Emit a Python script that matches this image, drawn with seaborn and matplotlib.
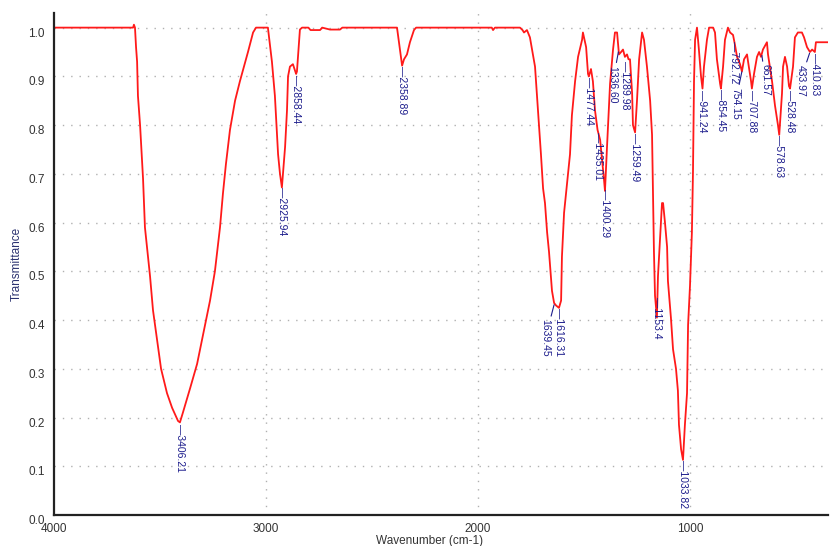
import numpy as np
import pandas as pd
import matplotlib
matplotlib.use("Agg")
import matplotlib.pyplot as plt
from matplotlib.ticker import MultipleLocator, FixedLocator, FuncFormatter
import seaborn as sns

# ---- spectrum (wavenumber cm-1, transmittance) ----
wavenumber = [4000, 3627, 3623, 3618, 3613, 3608, 3604, 3594, 3580, 3571, 3547, 3533,
              3514, 3495, 3467, 3443, 3415, 3406, 3392, 3358, 3325, 3297, 3264, 3241,
              3217, 3203, 3189, 3170, 3146, 3123, 3085, 3061, 3047, 2991, 2972, 2958, 2943, 2934,
              2925, 2910, 2901, 2896, 2887, 2873, 2858, 2854, 2840, 2830, 2800, 2790,
              2745, 2735, 2698, 2651, 2640, 2604, 2382, 2368, 2358, 2349, 2335, 2321,
              2302, 2292, 1935, 1929, 1920, 1802, 1790, 1783, 1775, 1769, 1755, 1731,
              1717, 1703, 1693, 1684, 1674, 1665, 1656, 1651, 1641, 1632, 1618, 1608,
              1604, 1594, 1580, 1566, 1557, 1542, 1528, 1509, 1505, 1490, 1481, 1477,
              1467, 1458, 1448, 1436, 1424, 1415, 1406, 1401, 1392, 1377, 1363, 1354,
              1344, 1340, 1335, 1325, 1316, 1307, 1297, 1290, 1283, 1273, 1269, 1259,
              1250, 1240, 1226, 1217, 1203, 1188, 1179, 1174, 1170, 1165, 1156, 1151,
              1141, 1132, 1127, 1118, 1108, 1104, 1090, 1080, 1066, 1057, 1052, 1042,
              1033, 1024, 1014, 1009, 1000, 991, 986, 981, 976, 967, 958, 948, 941,
              934, 920, 910, 891, 882, 873, 858, 854, 844, 835, 821, 811, 797, 788,
              778, 764, 755, 745, 731, 726, 712, 708, 698, 684, 674, 665, 656, 637,
              632, 613, 599, 585, 579, 566, 561, 552, 542, 533, 528, 514, 505, 491,
              472, 462, 448, 434, 424, 411, 406, 387, 349]
transmittance = [1.0, 1.0, 1.006, 1.0, 0.96, 0.93, 0.86, 0.80, 0.69, 0.59, 0.49, 0.42,
                 0.36, 0.30, 0.25, 0.22, 0.193, 0.19, 0.21, 0.26, 0.31, 0.37, 0.44, 0.50,
                 0.59, 0.66, 0.72, 0.79, 0.85, 0.89, 0.95, 0.99, 1.0, 1.0, 0.93, 0.86, 0.74, 0.70,
                 0.672, 0.755, 0.83, 0.90, 0.92, 0.925, 0.905, 0.91, 0.996, 1.0, 1.0, 0.995,
                 0.995, 1.0, 0.996, 0.996, 1.0, 1.0, 1.0, 0.955, 0.922, 0.935, 0.945, 0.97,
                 0.995, 1.0, 1.0, 0.995, 1.0, 1.0, 0.995, 0.99, 0.993, 0.995, 0.98, 0.92,
                 0.83, 0.74, 0.67, 0.64, 0.58, 0.54, 0.49, 0.46, 0.435, 0.43, 0.425, 0.44,
                 0.53, 0.62, 0.68, 0.74, 0.82, 0.89, 0.94, 0.975, 0.99, 0.96, 0.905, 0.90,
                 0.915, 0.89, 0.83, 0.79, 0.77, 0.73, 0.69, 0.665, 0.75, 0.885, 0.955, 0.99,
                 0.99, 0.97, 0.945, 0.95, 0.955, 0.94, 0.945, 0.935, 0.935, 0.865, 0.80, 0.785,
                 0.85, 0.935, 0.99, 0.975, 0.92, 0.85, 0.78, 0.645, 0.54, 0.45, 0.405, 0.49,
                 0.57, 0.64, 0.64, 0.60, 0.55, 0.48, 0.405, 0.34, 0.30, 0.255, 0.185, 0.135,
                 0.113, 0.185, 0.25, 0.39, 0.47, 0.58, 0.70, 0.89, 0.975, 1.0, 0.955, 0.90, 0.875,
                 0.92, 0.975, 1.0, 1.0, 0.99, 0.935, 0.885, 0.875, 0.92, 0.975, 1.0, 0.99, 0.985, 0.965,
                 0.94, 0.925, 0.91, 0.935, 0.945, 0.93, 0.89, 0.875, 0.905, 0.94, 0.95, 0.94, 0.955, 0.97,
                 0.945, 0.89, 0.84, 0.80, 0.78, 0.865, 0.92, 0.94, 0.92, 0.88, 0.875, 0.92, 0.98, 0.99,
                 0.99, 0.98, 0.96, 0.95, 0.955, 0.95, 0.97, 0.97, 0.97]

# ---- peak picks ----
peak_wn = [3406.21, 2925.94, 2858.44, 2358.89, 1639.45, 1616.31, 1477.44, 1435.01,
           1400.29, 1336.60, 1289.98, 1259.49, 1153.4, 1033.82, 941.24, 854.45,
           792.72, 754.15, 707.88, 661.57, 578.63, 528.48, 433.97, 410.83]
peak_text = ["3406.21", "2925.94", "2858.44", "2358.89", "1639.45", "1616.31", "1477.44",
             "1435.01", "1400.29", "1336.60", "1289.98", "1259.49", "1153.4", "1033.82",
             "941.24", "854.45", "792.72", "754.15", "707.88", "661.57", "578.63",
             "528.48", "433.97", "410.83"]
# labels pushed aside with a leader line (offset in points)
moved = {"1639.45": (-6.5, -11.5), "1336.60": (-4.5, -11.0), "754.15": (-5.0, -12.5),
         "661.57": (2.5, -7.5), "433.97": (-7.0, -9.5)}
# labels nudged sideways, still with their tick dash
nudged = {"1289.98": (-2.5, -1.0)}

x_major = [4000, 3000, 2000, 1000]
y_major = [0.0, 0.1, 0.2, 0.3, 0.4, 0.5, 0.6, 0.7, 0.8, 0.9, 1.0]

df = pd.DataFrame({"Wavenumber": wavenumber, "Transmittance": transmittance})

sns.set_style("white")
plt.rcParams["font.family"] = ["Liberation Sans", "DejaVu Sans"]

fig = plt.figure(figsize=(8.32, 5.46), dpi=100)
ax = fig.add_axes([54 / 832, 31 / 546, 774 / 832, 502 / 546])

sns.lineplot(data=df, x="Wavenumber", y="Transmittance", color="#ff1a1a",
             linewidth=1.3, ax=ax, sort=False)

ax.set_xlim(4000, 349)
ax.set_ylim(0, 1.03)

navy = "#1c1c8c"
tx = np.array(wavenumber[::-1], dtype=float)
ty = np.array(transmittance[::-1], dtype=float)
for w, t in zip(peak_wn, peak_text):
    yv = float(np.interp(w, tx, ty))
    if t in moved:
        dx, dy = moved[t]
        ax.annotate(t, xy=(w, yv), xytext=(dx, dy), textcoords="offset points",
                    rotation=-90, ha="center", va="top", fontsize=7.5, color=navy,
                    arrowprops=dict(arrowstyle="-", color=navy, lw=0.8,
                                    shrinkA=0, shrinkB=1))
    else:
        dx, dy = nudged.get(t, (0, -1))
        ax.annotate("\u2014" + t, xy=(w, yv), xytext=(dx, dy), textcoords="offset points",
                    rotation=-90, ha="center", va="top", fontsize=7.5, color=navy)

# axes styling
for s in ["top", "right"]:
    ax.spines[s].set_visible(False)
for s in ["left", "bottom"]:
    ax.spines[s].set_linewidth(1.6)
    ax.spines[s].set_color("#222222")

ax.xaxis.set_major_locator(FixedLocator(x_major))
ax.xaxis.set_minor_locator(MultipleLocator(100))
ax.yaxis.set_major_locator(FixedLocator(y_major))
ax.yaxis.set_minor_locator(MultipleLocator(0.01))
ax.yaxis.set_major_formatter(FuncFormatter(lambda v, p: f"{v:.1f}"))

ax.tick_params(axis="x", which="major", direction="out", length=4, width=1.2,
               labelsize=8.5, labelcolor="#333333", pad=2, color="#222222")
ax.tick_params(axis="x", which="minor", direction="out", length=3, width=1.0, color="#222222")
ax.tick_params(axis="y", which="major", direction="out", length=19, width=1.2,
               labelsize=8.5, labelcolor="#333333", pad=-12.5, color="#222222")
ax.tick_params(axis="y", which="minor", direction="out", length=2.5, width=1.0, color="#222222")
for lab in ax.get_yticklabels():
    lab.set_verticalalignment("top")

ax.grid(False)
ax.grid(True, axis="y", which="major", color="#b0b0b0", linestyle=(0, (1, 5)), linewidth=1.0)
for xv in x_major[1:]:
    ax.axvline(xv, color="#b0b0b0", linestyle=(0, (1, 5)), linewidth=1.0, zorder=0)

ax.set_xlabel("Wavenumber (cm-1)", fontsize=8.5, color="#333333")
ax.set_ylabel("Transmittance", fontsize=8.5, color="#2b3270")
ax.xaxis.set_label_coords(0.485, -0.040)
ax.yaxis.set_label_coords(-0.040, 0.5)

fig.savefig("out.png", dpi=100)
